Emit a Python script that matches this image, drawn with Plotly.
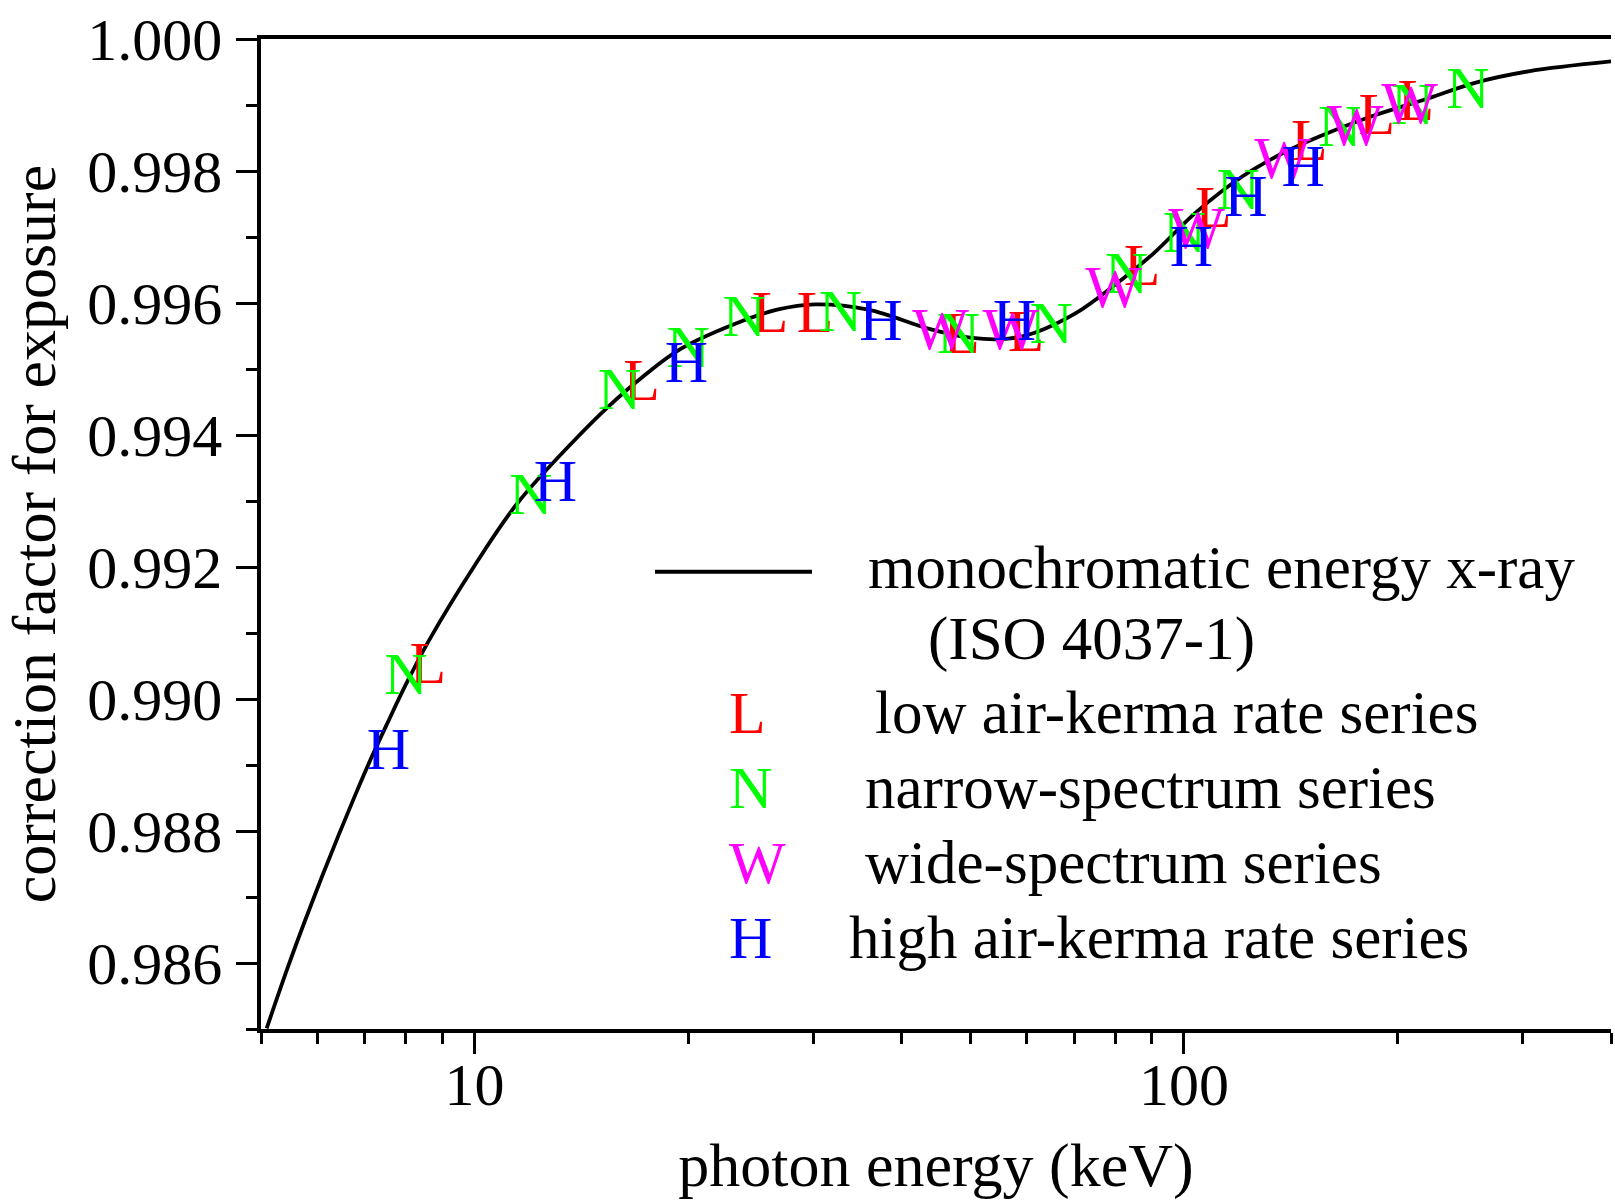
import plotly.graph_objects as go

# ---- data ----
curve_E = [5.093, 5.457, 5.767, 6.089, 6.428, 6.786, 7.161, 7.556, 7.977, 8.607, 10.0, 11.5,
           13.8, 15.4, 17.3, 19.5, 23.5, 26.7, 30.2, 35.9, 44.0, 50.3, 56.6, 61.6, 70.5,
           79.4, 90.8, 103.9, 121, 138.4, 155.8, 184, 218, 258, 306, 400]
curve_v = [0.98501, 0.98594, 0.98664, 0.98730, 0.98793, 0.98854, 0.98912, 0.98966, 0.99019,
           0.99087, 0.99202, 0.99297, 0.99391, 0.99442, 0.99489, 0.99530, 0.99570, 0.99590,
           0.99598, 0.99590, 0.99560, 0.99547, 0.99546, 0.99555, 0.99585, 0.99625, 0.99676,
           0.99737, 0.99792, 0.99828, 0.99853, 0.99883, 0.99908, 0.99934, 0.99951, 0.99966]

L_E = [8.59, 17.2, 26.1, 30.2, 48.6, 59.9, 87.3, 110, 150.3, 187.1, 212.3]
L_v = [0.99055, 0.99484, 0.99586, 0.99586, 0.99554, 0.99557, 0.99657, 0.99746, 0.99847, 0.99887, 0.99908]

N_E = [8.0, 12.0, 16.0, 20.0, 24.0, 32.8, 48.1, 65.0, 83.0, 100.2, 119.3, 165.8, 209.9, 251.3]
N_v = [0.99038, 0.99311, 0.99469, 0.99534, 0.99580, 0.99588, 0.99554, 0.99570, 0.99646,
       0.99707, 0.99772, 0.99868, 0.99901, 0.99926]

W_E = [45.4, 57.0, 79.6, 104.2, 137.7, 174.3, 208.0]
W_v = [0.99560, 0.99560, 0.99625, 0.99714, 0.99820, 0.99870, 0.99903]

H_E = [7.56, 13.0, 19.9, 37.4, 57.7, 102.5, 122.3, 147.3]
H_v = [0.98925, 0.99330, 0.99510, 0.99574, 0.99575, 0.99686, 0.99762, 0.99807]

y_major = [0.986, 0.988, 0.990, 0.992, 0.994, 0.996, 0.998, 1.000]
y_minor = [0.985, 0.987, 0.989, 0.991, 0.993, 0.995, 0.997, 0.999]
x_major = [10, 100]
x_minor = [5, 6, 7, 8, 9, 20, 30, 40, 50, 60, 70, 80, 90, 200, 300, 400]

legend_items = [("L", "#ff0000", "low air-kerma rate series"),
                ("N", "#00ff00", "narrow-spectrum series"),
                ("W", "#ff00ff", "wide-spectrum series"),
                ("H", "#0000ff", "high air-kerma rate series")]

FONT = "Liberation Serif, Times New Roman, serif"
FS_TICK = 60
FS_MARK = 60
FS_LEG = 61
FS_TITLE = 62

W, Hh = 1615, 1200
ML, MR, MT, MB = 261, 4, 39, 171
PW = W - ML - MR
PH = Hh - MT - MB
Y_RANGE = [0.985, 1.000]

# Plotly draws a text glyph's visual centre a few pixels above its anchor;
# shift the anchor down by that many pixels (converted through the y scale).
GLYPH_SHIFT_PX = 5
glyph_dv = GLYPH_SHIFT_PX * (Y_RANGE[1] - Y_RANGE[0]) / PH


def px(x):
    return (x - ML) / PW


def py(y):
    return (Hh - MB - y) / PH


fig = go.Figure()
fig.add_trace(go.Scatter(x=curve_E, y=curve_v, mode="lines",
                         line=dict(color="black", width=3.8, shape="spline", smoothing=1.0),
                         showlegend=False, hoverinfo="skip"))

for E, v, letter, color in [(L_E, L_v, "L", "#ff0000"), (N_E, N_v, "N", "#00ff00"),
                             (W_E, W_v, "W", "#ff00ff"), (H_E, H_v, "H", "#0000ff")]:
    fig.add_trace(go.Scatter(x=E, y=[val - glyph_dv for val in v], mode="text",
                             text=[letter] * len(E),
                             textposition="middle center",
                             textfont=dict(family=FONT, size=FS_MARK, color=color),
                             showlegend=False))

# legend drawn manually
fig.add_shape(type="line", xref="paper", yref="paper",
              x0=px(655), x1=px(812), y0=py(571.7), y1=py(571.7),
              line=dict(color="black", width=4))
ann = [dict(text="monochromatic energy x-ray", x=px(866), y=py(567)),
       dict(text="(ISO 4037-1)", x=px(926), y=py(639))]
text_x = [873, 863, 863, 847]
rows_y = [712.5, 787.5, 862.5, 937.5]
for (letter, color, label), tx, ry in zip(legend_items, text_x, rows_y):
    ann.append(dict(text=letter, x=px(727), y=py(ry), font=dict(family=FONT, size=FS_MARK, color=color)))
    ann.append(dict(text=label, x=px(tx), y=py(ry)))
for a in ann:
    a.setdefault("font", dict(family=FONT, size=FS_LEG, color="black"))
    fig.add_annotation(xref="paper", yref="paper", xanchor="left", yanchor="middle",
                       showarrow=False, **a)

fig.update_layout(
    width=W, height=Hh,
    margin=dict(l=ML, r=MR, t=MT, b=MB, autoexpand=False),
    paper_bgcolor="white", plot_bgcolor="white",
    font=dict(family=FONT, size=FS_TICK, color="black"),
    showlegend=False,
)
fig.update_xaxes(
    type="log", range=[0.69897, 2.60206],
    showgrid=False, zeroline=False,
    showline=True, linecolor="black", linewidth=3.5, mirror=True,
    ticks="outside", ticklen=21, tickwidth=3, tickcolor="black",
    tickmode="array", tickvals=x_major, ticktext=["10", "100"],
    tickfont=dict(family=FONT, size=FS_TICK, color="black"),
    ticklabelstandoff=-21,
    minor=dict(tickmode="array", tickvals=x_minor, ticks="outside", ticklen=11,
               tickwidth=3, tickcolor="black", showgrid=False),
    title=dict(text="photon energy (keV)", font=dict(family=FONT, size=FS_TITLE, color="black"),
               standoff=48),
)
fig.update_yaxes(
    range=Y_RANGE,
    showgrid=False, zeroline=False,
    showline=True, linecolor="black", linewidth=3.5, mirror=False,
    ticks="outside", ticklen=21, tickwidth=3, tickcolor="black",
    tickmode="array", tickvals=y_major, ticktext=[f"{v:.3f}" for v in y_major],
    tickfont=dict(family=FONT, size=FS_TICK, color="black"),
    ticklabelstandoff=2,
    minor=dict(tickmode="array", tickvals=y_minor, ticks="outside", ticklen=11,
               tickwidth=3, tickcolor="black", showgrid=False),
    title=dict(text="correction factor for exposure", font=dict(family=FONT, size=FS_TITLE, color="black"),
               standoff=28),
)

fig.write_html("out.html")
